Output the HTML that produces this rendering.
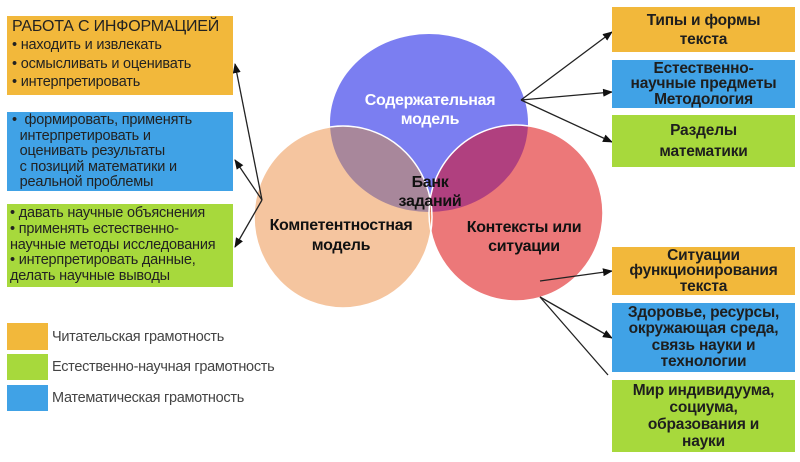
<!DOCTYPE html>
<html><head><meta charset="utf-8"><style>
body{margin:0;width:800px;height:462px;background:#fff;overflow:hidden;position:relative;font-family:"Liberation Sans","Noto Sans CJK SC",sans-serif}
.b{position:absolute;box-sizing:border-box;color:#222}
.o{background:#f2b83b}.bl{background:#40a2e6}.g{background:#a7d93c}
.r{text-align:center;font-weight:bold;font-size:15.5px;line-height:15.5px;display:flex;align-items:center;justify-content:center;color:#1e1e1e;letter-spacing:-0.2px}
.l{font-size:14.5px;line-height:15px;padding:3px 5px;letter-spacing:-0.2px}
.lg{position:absolute;left:52px;font-size:14.5px;color:#444;letter-spacing:-0.3px}
</style></head><body>
<svg width="800" height="462" style="position:absolute;left:0;top:0">
<defs><marker id="a" markerWidth="10" markerHeight="8" refX="9" refY="4" orient="auto" markerUnits="userSpaceOnUse"><path d="M0,0 L10,4 L0,8z" fill="#111"/></marker>
<clipPath id="cP"><ellipse cx="429" cy="123" rx="99" ry="89"/></clipPath>
<clipPath id="cK"><ellipse cx="343" cy="217" rx="89" ry="91"/></clipPath>
</defs>
<ellipse cx="429" cy="123" rx="99" ry="89" fill="#7b7ef1"/>
<ellipse cx="343" cy="217" rx="89" ry="91" fill="#f5c59f"/>
<ellipse cx="516" cy="213" rx="87" ry="88" fill="#ec7879"/>
<g clip-path="url(#cP)"><ellipse cx="343" cy="217" rx="89" ry="91" fill="#a8879b"/><ellipse cx="516" cy="213" rx="87" ry="88" fill="#b0407f"/></g>
<g clip-path="url(#cK)"><ellipse cx="516" cy="213" rx="87" ry="88" fill="#ea8c62"/></g>
<g clip-path="url(#cK)"><g clip-path="url(#cP)"><ellipse cx="516" cy="213" rx="87" ry="88" fill="#d2735c"/></g></g>
<ellipse cx="343" cy="217" rx="89" ry="91" fill="none" stroke="#fff" stroke-width="1.5"/>
<ellipse cx="516" cy="213" rx="87" ry="88" fill="none" stroke="#fff" stroke-width="1.5"/>
<g stroke="#222" stroke-width="1.3" fill="none" marker-end="url(#a)">
<line x1="262" y1="200" x2="235" y2="64"/>
<line x1="262" y1="200" x2="235" y2="160"/>
<line x1="262" y1="200" x2="235" y2="247"/>
<line x1="521" y1="100" x2="612" y2="32"/>
<line x1="521" y1="100" x2="612" y2="92"/>
<line x1="521" y1="100" x2="612" y2="142"/>
<line x1="540" y1="281" x2="612" y2="271"/>
<line x1="540" y1="297" x2="612" y2="338"/>
</g>
<line x1="540" y1="297" x2="608" y2="375" stroke="#222" stroke-width="1.3"/>
<g font-family="Liberation Sans, sans-serif" font-weight="bold" font-size="16" text-anchor="middle" letter-spacing="-0.3">
<text x="430" y="105" fill="#fff">Содержательная</text>
<text x="430" y="124" fill="#fff">модель</text>
<text x="430" y="187" fill="#111">Банк</text>
<text x="430" y="206" fill="#111">заданий</text>
<text x="341" y="230" fill="#111">Компетентностная</text>
<text x="341" y="250" fill="#111">модель</text>
<text x="524" y="232" fill="#111">Контексты или</text>
<text x="524" y="251" fill="#111">ситуации</text>
</g>
</svg>
<div class="b o l" style="left:7px;top:16px;width:226px;height:79px;padding-top:1px;line-height:18.5px"><div style="font-size:16px;line-height:19px">РАБОТА С ИНФОРМАЦИЕЙ</div>• находить и извлекать<br>• осмысливать и оценивать<br>• интерпретировать</div>
<div class="b bl l" style="left:7px;top:112px;width:226px;height:79px;line-height:15.5px;padding-top:1px">•&nbsp; формировать, применять<br>&nbsp;&nbsp;интерпретировать и<br>&nbsp;&nbsp;оценивать результаты<br>&nbsp;&nbsp;с позиций математики и<br>&nbsp;&nbsp;реальной проблемы</div>
<div class="b g l" style="left:7px;top:204px;width:226px;height:83px;line-height:15.8px;padding:2px 3px">• давать научные объяснения<br>• применять естественно-<br>научные методы исследования<br>• интерпретировать данные,<br>делать научные выводы</div>
<div class="b o r" style="left:612px;top:7px;width:183px;height:45px;line-height:19px">Типы и формы<br>текста</div>
<div class="b bl r" style="left:612px;top:60px;width:183px;height:48px">Естественно-<br>научные предметы<br>Методология</div>
<div class="b g r" style="left:612px;top:115px;width:183px;height:52px;line-height:21px">Разделы<br>математики</div>
<div class="b o r" style="left:612px;top:247px;width:183px;height:48px">Ситуации<br>функционирования<br>текста</div>
<div class="b bl r" style="left:612px;top:303px;width:183px;height:69px;line-height:16.5px">Здоровье, ресурсы,<br>окружающая среда,<br>связь науки и<br>технологии</div>
<div class="b g r" style="left:612px;top:380px;width:183px;height:72px;line-height:17px">Мир индивидуума,<br>социума,<br>образования и<br>науки</div>
<div class="b o" style="left:7px;top:323px;width:41px;height:27px"></div>
<div class="b g" style="left:7px;top:354px;width:41px;height:26px"></div>
<div class="b bl" style="left:7px;top:385px;width:41px;height:26px"></div>
<div class="lg" style="top:329px">Читательская грамотность</div>
<div class="lg" style="top:359px">Естественно-научная грамотность</div>
<div class="lg" style="top:390px">Математическая грамотность</div>
</body></html>
